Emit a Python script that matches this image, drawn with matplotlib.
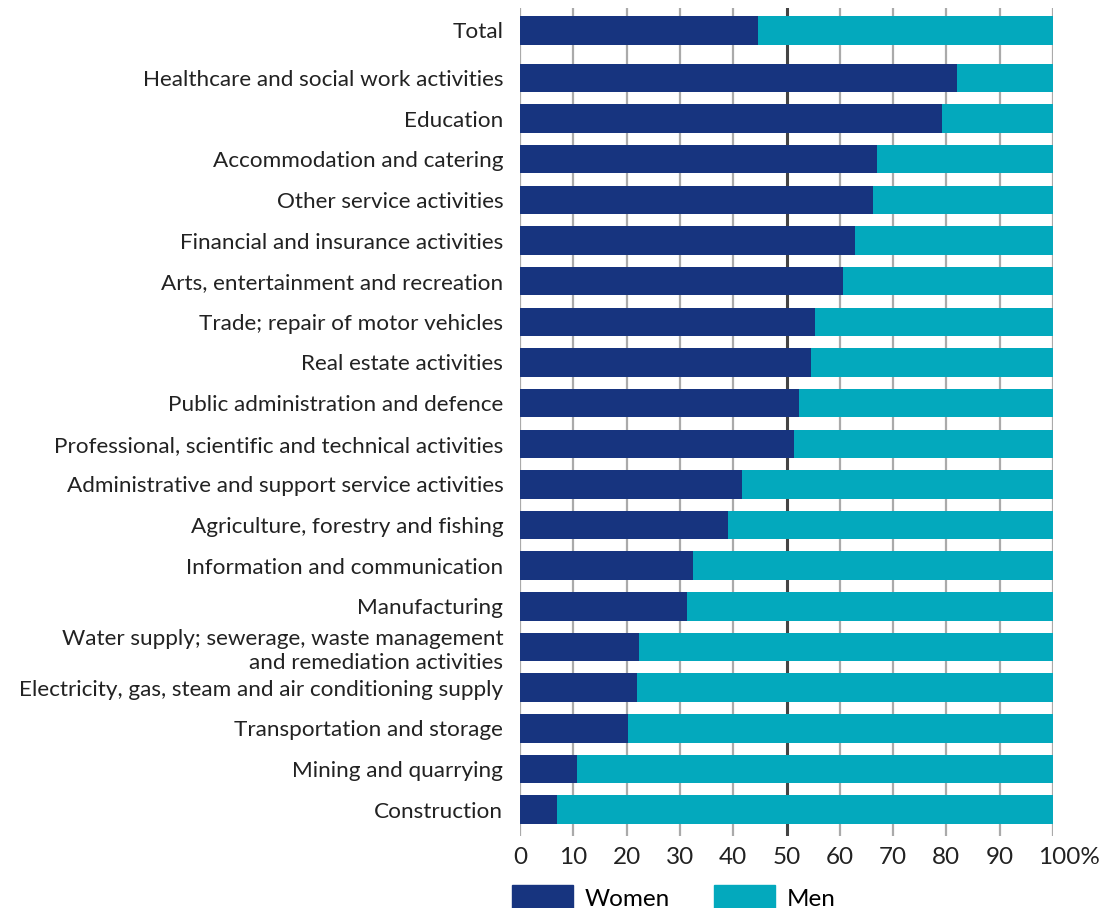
import matplotlib.pyplot as plt
import matplotlib.patches as mpatches
import matplotlib.transforms as mtransforms

plt.rcParams['font.family'] = ['Lato', 'DejaVu Sans']

categories = [
    "Total",
    "Healthcare and social work activities",
    "Education",
    "Accommodation and catering",
    "Other service activities",
    "Financial and insurance activities",
    "Arts, entertainment and recreation",
    "Trade; repair of motor vehicles",
    "Real estate activities",
    "Public administration and defence",
    "Professional, scientific and technical activities",
    "Administrative and support service activities",
    "Agriculture, forestry and fishing",
    "Information and communication",
    "Manufacturing",
    "Water supply; sewerage, waste management\nand remediation activities",
    "Electricity, gas, steam and air conditioning supply",
    "Transportation and storage",
    "Mining and quarrying",
    "Construction",
]
women = [44.6, 82.0, 79.2, 67.0, 66.2, 62.9, 60.6, 55.3, 54.6, 52.3,
         51.4, 41.7, 39.0, 32.5, 31.3, 22.3, 22.0, 20.3, 10.7, 6.9]
men = [100 - w for w in women]

c_women = "#17347f"
c_men = "#03a9bd"

n = len(categories)
# bottom row at 0, Total a little apart at top
ypos = [n - 1 - i for i in range(n)]
ypos[0] += 0.17

fig = plt.figure(figsize=(11.09, 9.08), dpi=100)
ax = fig.add_axes([520 / 1109, 1 - 836 / 908, 533 / 1109, 828 / 908])

ax.barh(ypos, women, height=0.7, color=c_women, zorder=3)
ax.barh(ypos, men, left=women, height=0.7, color=c_men, zorder=3)

for x in range(0, 101, 10):
    ax.axvline(x, color="#444444" if x == 50 else "#aaaaaa",
               lw=2.2 if x == 50 else 1.6, zorder=1)

ax.set_xlim(0, 100)
ax.set_ylim(-0.65, ypos[0] + 0.55)
ax.set_yticks(ypos)
ax.set_yticklabels(categories, fontsize=16.2, color="#222222", linespacing=1.25)
for lbl in ax.get_yticklabels():
    lbl.set_multialignment("right")
xlabels = [str(v) for v in range(0, 101, 10)]
xlabels[-1] = "100%"
ax.set_xticks(range(0, 101, 10))
ax.set_xticklabels(xlabels, fontsize=17.5, color="#222222")
ax.tick_params(axis="x", length=0, pad=8)
ax.tick_params(axis="y", length=0, pad=12)
for s in ax.spines.values():
    s.set_visible(False)

# shift the 100% label so the number sits on the tick
lab = ax.get_xticklabels()[-1]
lab.set_transform(lab.get_transform() + mtransforms.ScaledTranslation(16 / 100, 0, fig.dpi_scale_trans))

handles = [mpatches.Patch(color=c_women, label="Women"),
           mpatches.Patch(color=c_men, label="Men")]
fig.legend(handles=handles, loc="lower left", bbox_to_anchor=(512 / 1109, -2 / 908),
           ncol=2, frameon=False, fontsize=17.5, handlelength=2.5, handleheight=1.2,
           columnspacing=1.8, handletextpad=0.5, borderpad=0, borderaxespad=0)

fig.savefig("out.png", dpi=100)
